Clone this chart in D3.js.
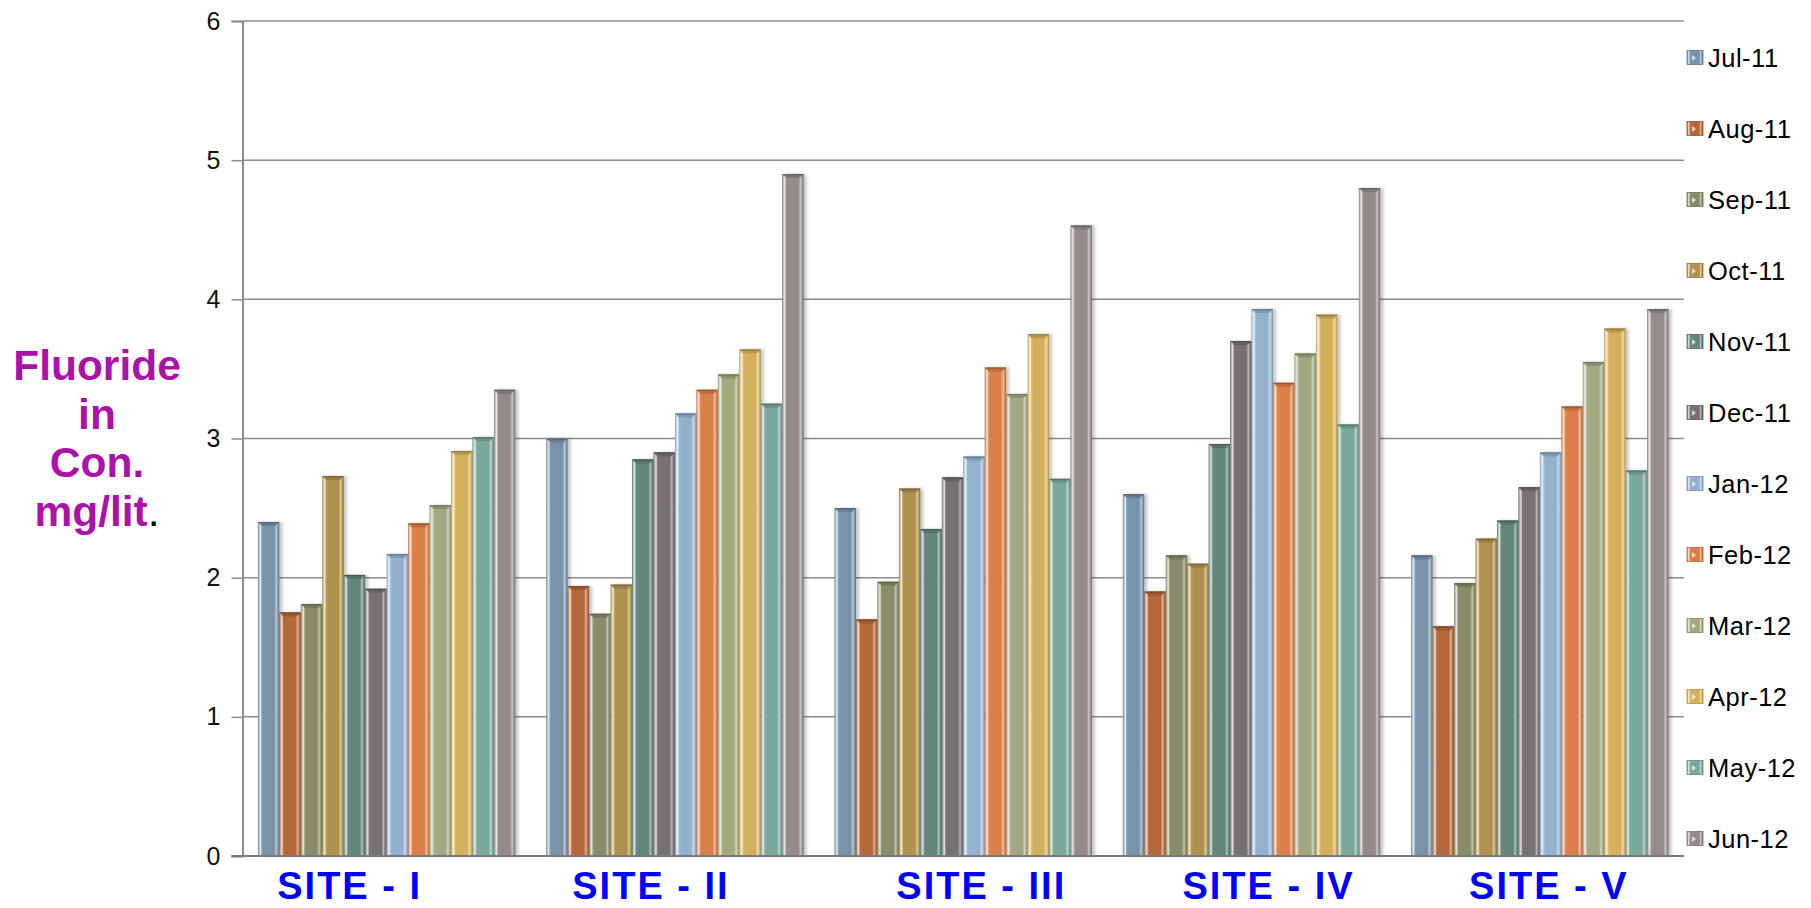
<!DOCTYPE html>
<html>
<head>
<meta charset="utf-8">
<script src="https://cdn.jsdelivr.net/npm/d3@7"></script>
<style>
  html, body { margin: 0; padding: 0; background: #fff; }
  svg { display: block; font-family: "Liberation Sans", Arial, Helvetica, sans-serif; }
</style>
</head>
<body>
<svg id="chart" width="1811" height="908"></svg>
<script>
// Sampling sites along the x axis
const sites = ["SITE - I", "SITE - II", "SITE - III", "SITE - IV", "SITE - V"];

// Monthly sampling series (Jul-2011 .. Jun-2012)
const months = ["Jul-11", "Aug-11", "Sep-11", "Oct-11", "Nov-11", "Dec-11",
                "Jan-12", "Feb-12", "Mar-12", "Apr-12", "May-12", "Jun-12"];

// Fluoride concentration (mg/lit) per site, one value per month
const siteI   = [2.40, 1.75, 1.81, 2.73, 2.02, 1.92, 2.17, 2.39, 2.52, 2.91, 3.01, 3.35];
const siteII  = [3.00, 1.94, 1.74, 1.95, 2.85, 2.90, 3.18, 3.35, 3.46, 3.64, 3.25, 4.90];
const siteIII = [2.50, 1.70, 1.97, 2.64, 2.35, 2.72, 2.87, 3.51, 3.32, 3.75, 2.71, 4.53];
const siteIV  = [2.60, 1.90, 2.16, 2.10, 2.96, 3.70, 3.93, 3.40, 3.61, 3.89, 3.10, 4.80];
const siteV   = [2.16, 1.65, 1.96, 2.28, 2.41, 2.65, 2.90, 3.23, 3.55, 3.79, 2.77, 3.93];

// Y axis tick values
const yTicks = [0, 1, 2, 3, 4, 5, 6];

// Fill colour for each month series
const monthColors = ["#7792ab", "#b4683a", "#898b69", "#b0914d", "#64867c", "#796f71",
                     "#92b1cf", "#d97f48", "#a2a97f", "#d5b05c", "#7aa79c", "#948a8a"];

// Horizontal nudge for the site captions
const labelNudge = [-37, -24, 18, 17, 9];

const table = [siteI, siteII, siteIII, siteIV, siteV];

const svg = d3.select("#chart");
const plot = { left: 242.5, right: 1684, top: 21, bottom: 856 };

const y = d3.scaleLinear().domain([0, 6]).range([plot.bottom, plot.top]);
const x0 = d3.scaleBand().domain(sites).range([plot.left, plot.right])
  .paddingInner(0.107).paddingOuter(0.0535);
const x1 = d3.scaleBand().domain(months).range([0, x0.bandwidth()]).padding(0);
const color = d3.scaleOrdinal().domain(months).range(monthColors);

// Bevelled-bar gradients
const defs = svg.append("defs");
months.forEach((m, i) => {
  const c = d3.color(monthColors[i]);
  const g = defs.append("linearGradient").attr("id", "g" + i)
    .attr("x1", "0").attr("x2", "1").attr("y1", "0").attr("y2", "0");
  const stops = [
    [0, c.darker(0.6)],
    [0.05, d3.interpolateRgb(c, "#ffffff")(0.4)],
    [0.12, d3.interpolateRgb(c, "#ffffff")(0.8)],
    [0.19, c.brighter(0.15)],
    [0.28, c],
    [0.76, c],
    [0.85, d3.interpolateRgb(c, "#ffffff")(0.5)],
    [0.92, c.brighter(0.25)],
    [1, c.darker(0.7)]
  ];
  stops.forEach(([o, col]) => g.append("stop").attr("offset", o).attr("stop-color", col.toString()));
});
const shadow = defs.append("filter").attr("id", "shadow")
  .attr("x", "-20%").attr("y", "-5%").attr("width", "160%").attr("height", "110%");
shadow.append("feDropShadow").attr("dx", 3).attr("dy", 0).attr("stdDeviation", 1.5)
  .attr("flood-color", "#000").attr("flood-opacity", 0.22);

// Gridlines
svg.append("g").selectAll("line").data(yTicks.filter(d => d > 0)).join("line")
  .attr("x1", plot.left).attr("x2", plot.right)
  .attr("y1", d => y(d)).attr("y2", d => y(d))
  .attr("stroke", "#8c8c8c").attr("stroke-width", 1.5);

// Y axis
const yAxis = svg.append("g").attr("transform", `translate(${plot.left},0)`)
  .call(d3.axisLeft(y).tickValues(yTicks).tickFormat(d3.format("d")).tickSize(11).tickPadding(11));
yAxis.select(".domain").attr("stroke", "#8c8c8c").attr("stroke-width", 2);
yAxis.selectAll(".tick line").attr("stroke", "#8c8c8c").attr("stroke-width", 1.5);
yAxis.selectAll(".tick text").attr("font-size", 25).attr("fill", "#111")
  .attr("font-family", "'Liberation Sans', Arial, sans-serif");

// Bars
const groups = svg.append("g").selectAll("g").data(sites).join("g")
  .attr("transform", d => `translate(${x0(d)},0)`);

groups.each(function (site, si) {
  const g = d3.select(this);
  const vals = months.map((m, mi) => ({ m, mi, v: table[si][mi] }));
  const bar = g.selectAll("g.bar").data(vals).join("g").attr("class", "bar");
  bar.append("rect")
    .attr("x", d => x1(d.m)).attr("width", x1.bandwidth())
    .attr("y", d => y(d.v)).attr("height", d => y(0) - y(d.v))
    .attr("fill", d => `url(#g${d.mi})`)
    .attr("filter", "url(#shadow)");
  // top bevel
  bar.append("path")
    .attr("d", d => {
      const xl = x1(d.m), w = x1.bandwidth(), t = y(d.v), b = 4;
      return `M${xl},${t}H${xl + w}L${xl + w - b},${t + b}H${xl + b}Z`;
    })
    .attr("fill", d => d3.color(color(d.m)).darker(0.5))
    .attr("opacity", 0.85);
  bar.append("rect")
    .attr("x", d => x1(d.m) + 0.5).attr("width", x1.bandwidth() - 1)
    .attr("y", d => y(d.v)).attr("height", 1.2)
    .attr("fill", d => d3.color(color(d.m)).darker(1));
});

// Baseline axis
svg.append("line").attr("x1", plot.left - 11).attr("x2", plot.right)
  .attr("y1", y(0)).attr("y2", y(0)).attr("stroke", "#7a7a7a").attr("stroke-width", 2);

// Site captions
svg.append("g").selectAll("text").data(sites).join("text")
  .attr("x", (d, i) => x0(d) + x0.bandwidth() / 2 + labelNudge[i])
  .attr("y", 899)
  .attr("text-anchor", "middle")
  .attr("font-size", 38).attr("font-weight", "bold")
  .attr("letter-spacing", 2)
  .attr("fill", "#0000ff")
  .text(d => d);

// Y axis title
const titleLines = ["Fluoride", "in", "Con.", "mg/lit"];
const title = svg.append("text").attr("text-anchor", "middle")
  .attr("font-size", 42.5).attr("font-weight", "bold").attr("fill", "#aa12a8");
titleLines.forEach((t, i) => {
  const ts = title.append("tspan").attr("x", 97).attr("y", 380 + i * 48.5).text(t);
  if (i === titleLines.length - 1) {
    ts.append("tspan").attr("fill", "#000").attr("font-weight", "normal").text(".");
  }
});

// Legend
const legend = svg.append("g").selectAll("g").data(months).join("g")
  .attr("transform", (d, i) => `translate(1687, ${58 + i * 71})`);
legend.append("rect").attr("x", 0).attr("y", -7.5).attr("width", 16).attr("height", 14)
  .attr("fill", (d, i) => `url(#g${i})`).attr("stroke", d => d3.color(color(d)).darker(0.6)).attr("stroke-width", 0.8);
legend.append("path").attr("d", "M5,-3L9,0L5,3Z").attr("fill", "#ffffff").attr("opacity", 0.7);
legend.append("text").attr("x", 21).attr("y", 0).attr("dy", "0.35em")
  .attr("font-size", 25.5).attr("fill", "#000").attr("letter-spacing", 0.5)
  .text(d => d);
</script>
</body>
</html>
